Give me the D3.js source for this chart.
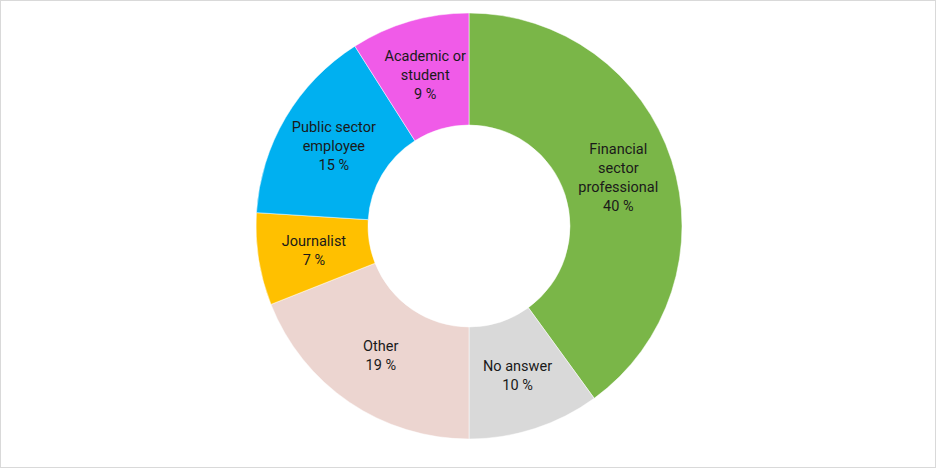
<!DOCTYPE html>
<html><head><meta charset="utf-8">
<script src="https://cdn.jsdelivr.net/npm/d3@7"></script>
<style>body{margin:0;background:#fff}</style>
</head><body>
<svg id="c" width="936" height="468"></svg>
<script>
const categories = [["Financial","sector","professional"],["No answer"],["Other"],["Journalist"],["Public sector","employee"],["Academic or","student"]];
const values = [40,10,19,7,15,9];
const colors = ["#7ab648","#d9d9d9","#ecd5d0","#ffc000","#00b0f0","#f05be8"];
const svg = d3.select("#c");
svg.append("rect").attr("x",0.5).attr("y",0.5).attr("width",935).attr("height",467).attr("fill","#fff").attr("stroke","#d9d9d9");
const g = svg.append("g").attr("transform","translate(469,226)");
const pie = d3.pie().sort(null).value(d=>d)(values);
const arc = d3.arc().innerRadius(101).outerRadius(213);
const labelArc = d3.arc().innerRadius(157).outerRadius(157);
g.selectAll("path").data(pie).join("path").attr("d",arc).attr("fill",(d,i)=>colors[i]).attr("stroke","#fff").attr("stroke-width",0.5);
pie.forEach((d,i)=>{
  const [x,y] = labelArc.centroid(d);
  const lines = categories[i].concat([values[i]+" %"]);
  const t = g.append("text").attr("text-anchor","middle").attr("font-family","Roboto, sans-serif").attr("font-size",14.5).attr("fill","#1a1a1a");
  const lh = 19, y0 = y - (lines.length-1)*lh/2 + 5;
  lines.forEach((l,j)=>t.append("tspan").attr("x",x).attr("y",y0+j*lh).text(l));
});
</script>
</body></html>
